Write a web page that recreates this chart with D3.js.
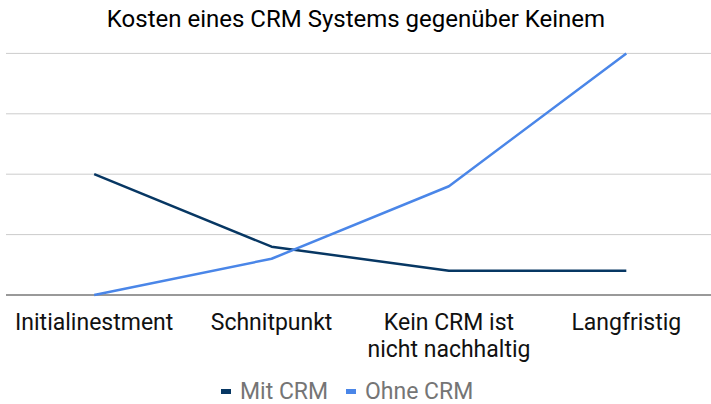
<!DOCTYPE html>
<html><head><meta charset="utf-8">
<script src="https://cdn.jsdelivr.net/npm/d3@7"></script>
<style>body{margin:0;background:#fff}svg{display:block;font-family:Roboto,sans-serif}</style>
</head><body><svg id="c" width="711" height="404"></svg>
<script>
const categories = ["Initialinestment", "Schnitpunkt", "Kein CRM ist\nnicht nachhaltig", "Langfristig"];
const mitCRM = [2.0, 0.8, 0.4, 0.4];
const ohneCRM = [0.0, 0.6, 1.8, 4.0];
const yTicks = [0, 1, 2, 3, 4];
const seriesNames = ["Mit CRM", "Ohne CRM"];
const colors = ["#073763", "#4a86e8"];

const svg = d3.select("#c");
const x = d3.scalePoint().domain(categories).range([5.5, 715]).padding(0.5);
const y = d3.scaleLinear().domain([0, 4]).range([295, 53.4]);

svg.append("text").attr("x", 356).attr("y", 27).attr("text-anchor", "middle")
  .attr("font-size", 24).attr("fill", "#000").text("Kosten eines CRM Systems gegenüber Keinem");

svg.append("g").selectAll("line").data(yTicks).join("line")
  .attr("x1", 6).attr("x2", 711)
  .attr("y1", d => y(d)).attr("y2", d => y(d))
  .attr("stroke", d => d === 0 ? "#777" : "#cccccc").attr("stroke-width", d => d === 0 ? 1.5 : 1);

const xl = svg.append("g");
categories.forEach(c => {
  const t = xl.append("text").attr("x", x(c)).attr("y", 330).attr("text-anchor", "middle")
    .attr("font-size", 23).attr("fill", "#111");
  c.split("\n").forEach((s, i) => t.append("tspan").attr("x", x(c)).attr("dy", i ? 27 : 0).text(s));
});

const line = d3.line().x((d, i) => x(categories[i])).y(d => y(d));
[mitCRM, ohneCRM].forEach((s, k) => {
  svg.append("path").datum(s).attr("d", line).attr("fill", "none")
    .attr("stroke", colors[k]).attr("stroke-width", 2.5).attr("stroke-linejoin", "round");
});

const lg = svg.append("g");
const lx = [221, 346];
seriesNames.forEach((n, k) => {
  lg.append("rect").attr("x", lx[k]).attr("y", 389).attr("width", 10).attr("height", 5).attr("fill", colors[k]);
  lg.append("text").attr("x", lx[k] + 19).attr("y", 399).attr("font-size", 23).attr("fill", "#757575").text(n);
});
</script></body></html>
